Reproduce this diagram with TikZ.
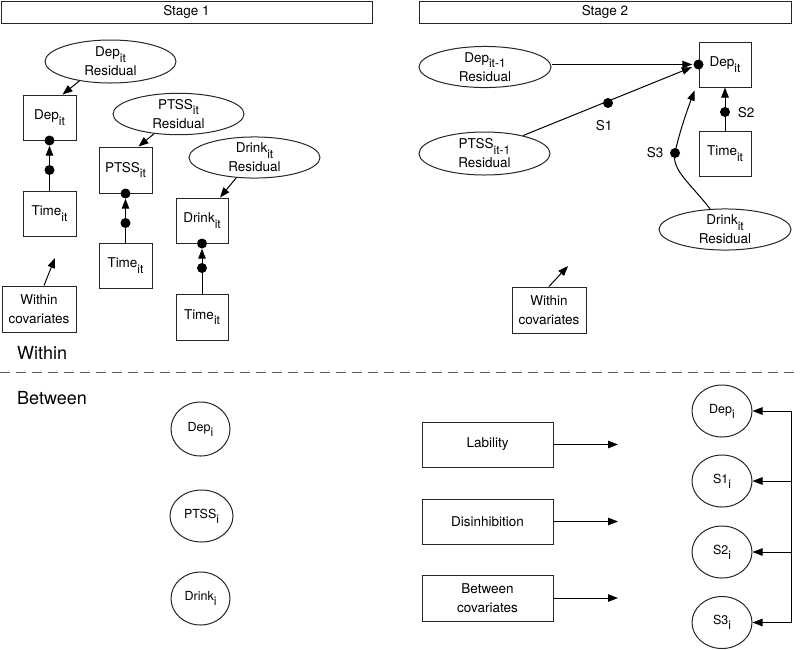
\documentclass[tikz,border=0pt]{standalone}
\usepackage{fontspec}
\setmainfont{TeX Gyre Heros}
\usetikzlibrary{shapes.geometric,arrows.meta,calc}
\newcommand\sbt[1]{\raisebox{-0.75ex}{\fontsize{12}{12}\selectfont #1}}
\begin{document}
\begin{tikzpicture}[x=1pt,y=-1pt,
  every node/.style={font=\fontsize{13.5}{19}\selectfont, inner sep=0pt, align=center},
  box/.style={draw=black!85, rectangle, line width=1pt},
  ell/.style={draw=black!85, ellipse, line width=1pt},
  circ/.style={draw=black!85, ellipse, line width=1pt, minimum width=60pt, minimum height=53pt, font=\fontsize{12.5}{14}\selectfont},
  dotnode/.style={circle, fill=black, minimum size=10pt, inner sep=0pt},
  arr/.style={-{Triangle[length=10pt,width=7.5pt]}, line width=1pt},
  ln/.style={line width=1pt},
  big/.style={font=\fontsize{18}{20}\selectfont, anchor=west}
]
\useasboundingbox (0,0) rectangle (800,649);

% ---------- Stage 1 ----------
\node[box, minimum width=371pt, minimum height=22pt] (st1) at (186.5,12) {Stage 1};

\node[ell, minimum width=131pt, minimum height=43pt] (dres1) at (110.5,61.5) {Dep\sbt{it}\\Residual};
\node[box, minimum width=53pt, minimum height=45pt] (dep1) at (49.5,117.5) {Dep\sbt{it}};
\node[box, minimum width=53pt, minimum height=45pt] (t1) at (49.5,213.5) {Time\sbt{it}};
\node[box, minimum width=74pt, minimum height=46pt] (wc1) at (39,309) {Within\\covariates};
\coordinate (w1) at (55,258);

\node[ell, minimum width=131pt, minimum height=41pt] (pres1) at (178.5,114) {PTSS\sbt{it}\\Residual};
\node[box, minimum width=53pt, minimum height=46pt] (ptss1) at (125.5,170) {PTSS\sbt{it}};
\node[box, minimum width=53pt, minimum height=45pt] (t2) at (125.5,265.5) {Time\sbt{it}};

\node[ell, minimum width=131pt, minimum height=41pt] (drres1) at (254.5,157.5) {Drink\sbt{it}\\Residual};
\node[box, minimum width=52pt, minimum height=45pt] (dr1) at (202,220.5) {Drink\sbt{it}};
\node[box, minimum width=52pt, minimum height=46pt] (t3) at (202,317) {Time\sbt{it}};

% dots stage 1
\node[dotnode] (d1a) at (dep1.south) {};
\node[dotnode] (d1b) at (49.5,170) {};
\node[dotnode] (d2a) at (ptss1.south) {};
\node[dotnode] (d2b) at (125.5,223) {};
\node[dotnode] (d3a) at (dr1.south) {};
\node[dotnode] (d3b) at (202,268) {};

\draw[arr] (dres1.212) -- ($(dep1.north)+(13,0)$);
\draw[arr] (pres1.219) -- ($(ptss1.north)+(13,0)$);
\draw[arr] (drres1.228) -- ($(dr1.north)+(18,0)$);

\draw[arr] (t1.north) -- (d1a);
\draw[arr] (t2.north) -- (d2a);
\draw[arr] (t3.north) -- (d3a);
\draw[arr] ($(wc1.north)+(5,0)$) -- (w1);

% ---------- Stage 2 ----------
\node[box, minimum width=372pt, minimum height=22pt] (st2) at (605,12) {Stage 2};

\node[ell, minimum width=132pt, minimum height=40pt] (dres2) at (485,67) {Dep\sbt{it-1}\\Residual};
\node[ell, minimum width=131pt, minimum height=43pt] (pres2) at (484.5,153.5) {PTSS\sbt{it-1}\\Residual};
\node[box, minimum width=52pt, minimum height=45pt] (dep2) at (725,64.5) {Dep\sbt{it}};
\node[box, minimum width=52pt, minimum height=45pt] (t4) at (725,153.5) {Time\sbt{it}};
\node[ell, minimum width=132pt, minimum height=41pt] (drres2) at (725,229.5) {Drink\sbt{it}\\Residual};
\node[box, minimum width=74pt, minimum height=46pt] (wc2) at (549,310) {Within\\covariates};
\coordinate (w2) at (568,266);

\node[dotnode] (dA) at (dep2.west) {};
\node[dotnode] (dS1) at (608,103) {};
\node[dotnode] (dS2) at (725,112) {};
\node[dotnode] (dS3) at (675,153) {};
\node (lS1) at (604,126) {S1};
\node (lS2) at (746,113) {S2};
\node (lS3) at (655,153) {S3};
\coordinate (s3end) at ($(dep2.south west)+(-4,3)$);

\draw[arr, shorten >=1pt] (dres2.east |- dA.center) -- (dA);
\draw[arr, shorten >=2pt] (pres2.25) -- (dA);
\draw[arr] (t4.north) -- (dep2.south);
\draw[arr] (drres2.126) .. controls (692,185) and (671,170) .. (dS3.center)
                        .. controls (679,133) and (688,108) .. (s3end);
\draw[arr] (wc2.north) -- (w2);

% ---------- divider ----------
\node[big] (within) at (17,353) {Within};
\coordinate (dl) at (0,372);
\coordinate (dr) at (800,372);
\draw[dash pattern=on 10pt off 6pt, draw=black!65, line width=1pt] (dl) -- (dr);
\node[big] (between) at (17,398) {Between};

% ---------- Between ----------
\node[circ, minimum width=59pt, minimum height=54pt] (depi) at (200.5,429) {Dep\sbt{i}};
\node[circ, minimum width=63pt, minimum height=52pt] (ptssi) at (201.5,516) {PTSS\sbt{i}};
\node[circ, minimum width=59pt, minimum height=53pt] (drinki) at (200.5,598.5) {Drink\sbt{i}};

\node[box, minimum width=131pt, minimum height=45pt] (lab) at (487.5,444.5) {Lability};
\node[box, minimum width=131pt, minimum height=45pt] (dis) at (487.5,521.5) {Disinhibition};
\node[box, minimum width=131pt, minimum height=46pt] (bcov) at (487.5,598) {Between\\covariates};
\coordinate (la) at (618,444.5);
\coordinate (da) at (618,521.5);
\coordinate (ba) at (618,598);
\draw[arr] (lab.east) -- (la);
\draw[arr] (dis.east) -- (da);
\draw[arr] (bcov.east) -- (ba);

\node[circ, minimum height=52pt] (ci1) at (722,411) {Dep\sbt{i}};
\node[circ, minimum height=52pt] (ci2) at (722,481) {S1\sbt{i}};
\node[circ, minimum height=52pt] (ci3) at (722,552) {S2\sbt{i}};
\node[circ, minimum height=52pt] (ci4) at (722,622.5) {S3\sbt{i}};
\coordinate (vtop) at (791,411);
\coordinate (vbot) at (791,622.5);
\draw[ln] (vtop) -- (vbot);
\draw[arr] (vtop) -- (ci1.east);
\draw[arr] (vtop |- ci2.east) -- (ci2.east);
\draw[arr] (vtop |- ci3.east) -- (ci3.east);
\draw[arr] (vbot) -- (ci4.east);
\end{tikzpicture}
\end{document}
